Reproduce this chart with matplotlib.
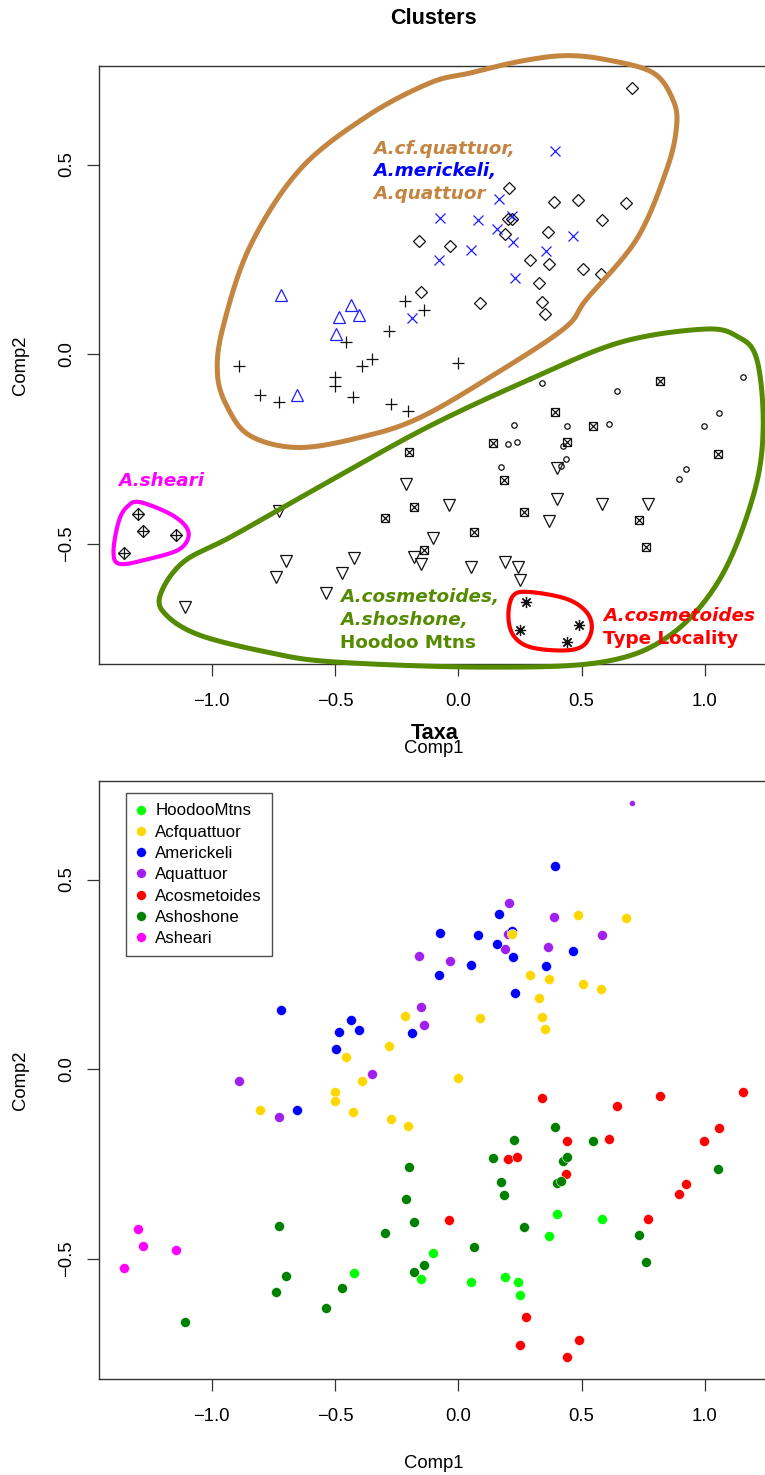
import numpy as np
import matplotlib
matplotlib.use("Agg")
import matplotlib.pyplot as plt

# ---------------- data ----------------
species_order = ["HoodooMtns", "Acfquattuor", "Americkeli", "Aquattuor",
                 "Acosmetoides", "Ashoshone", "Asheari"]

# per-species points: (Comp1, Comp2, cluster symbol)
americkeli_x = [-0.719, -0.434, -0.485, -0.404, -0.496, -0.655, -0.188, 0.393, 0.165,
                -0.073, 0.079, 0.218, 0.157, 0.222, 0.466, 0.050, -0.078, 0.357, 0.230]
americkeli_y = [0.156, 0.129, 0.098, 0.102, 0.054, -0.107, 0.095, 0.535, 0.410,
                0.358, 0.353, 0.363, 0.330, 0.295, 0.311, 0.275, 0.247, 0.273, 0.200]
americkeli_c = ["tri_up"] * 6 + ["cross"] * 13

aquattuor_x = [0.705, 0.207, 0.387, 0.203, 0.582, 0.191, 0.365, -0.158, -0.032, -0.151,
               -0.138, -0.350, -0.888, -0.727]
aquattuor_y = [0.702, 0.438, 0.401, 0.357, 0.353, 0.316, 0.323, 0.298, 0.285, 0.165,
               0.116, -0.014, -0.031, -0.125]
aquattuor_c = ["diamond"] * 10 + ["plus"] * 4

acfquattuor_x = [0.486, 0.680, 0.218, 0.291, 0.368, 0.504, 0.580, 0.328, 0.089, 0.341, 0.353,
                 -0.216, -0.282, -0.457, -0.389, -0.500, -0.500, -0.805, -0.426, -0.271,
                 -0.203, -0.002]
acfquattuor_y = [0.406, 0.399, 0.357, 0.247, 0.239, 0.224, 0.211, 0.188, 0.134, 0.137, 0.107,
                 0.139, 0.061, 0.032, -0.032, -0.061, -0.084, -0.107, -0.114, -0.132,
                 -0.149, -0.022]
acfquattuor_c = ["diamond"] * 11 + ["plus"] * 11

acosmetoides_x = [0.339, 0.642, 0.819, 1.154, 0.439, 0.612, 1.055, 0.996, 0.203, 0.237,
                  0.435, 0.923, 0.896, -0.036, 0.769, 0.276, 0.249, 0.488, 0.439]
acosmetoides_y = [-0.077, -0.097, -0.070, -0.061, -0.188, -0.185, -0.154, -0.189, -0.238,
                  -0.231, -0.277, -0.303, -0.329, -0.398, -0.396, -0.653, -0.728, -0.714,
                  -0.759]
acosmetoides_c = ["circle", "circle", "boxx"] + ["circle"] * 10 + ["tri_down"] * 2 + ["aster"] * 4

ashoshone_x = [-0.201, -0.211, -0.180, -0.727, -0.298, -0.700, -0.739, -0.470, -0.535,
               -1.109, -0.180, -0.140, 0.391, 0.226, 0.547, 0.139, 0.423, 0.441, 1.053,
               0.172, 0.184, 0.399, 0.416, 0.268, 0.733, 0.065, 0.760]
ashoshone_y = [-0.258, -0.341, -0.404, -0.414, -0.433, -0.546, -0.587, -0.577, -0.629,
               -0.667, -0.534, -0.515, -0.152, -0.187, -0.189, -0.233, -0.243, -0.232,
               -0.263, -0.297, -0.332, -0.300, -0.295, -0.417, -0.437, -0.469, -0.507]
ashoshone_c = ["boxx", "tri_down", "boxx", "tri_down", "boxx", "tri_down", "tri_down",
               "tri_down", "tri_down", "tri_down", "tri_down", "boxx", "boxx", "circle",
               "boxx", "boxx", "circle", "boxx", "boxx", "circle", "boxx", "tri_down",
               "circle", "boxx", "boxx", "boxx", "boxx"]

hoodoo_x = [-0.421, -0.150, -0.101, 0.400, 0.581, 0.369, 0.051, 0.191, 0.241, 0.251]
hoodoo_y = [-0.536, -0.553, -0.485, -0.382, -0.395, -0.439, -0.561, -0.548, -0.561, -0.596]
hoodoo_c = ["tri_down"] * 10

asheari_x = [-1.300, -1.279, -1.143, -1.356]
asheari_y = [-0.420, -0.467, -0.477, -0.524]
asheari_c = ["diamond_plus"] * 4

groups = {
    "Aquattuor": (aquattuor_x, aquattuor_y, aquattuor_c),
    "Americkeli": (americkeli_x, americkeli_y, americkeli_c),
    "Acfquattuor": (acfquattuor_x, acfquattuor_y, acfquattuor_c),
    "Acosmetoides": (acosmetoides_x, acosmetoides_y, acosmetoides_c),
    "Ashoshone": (ashoshone_x, ashoshone_y, ashoshone_c),
    "HoodooMtns": (hoodoo_x, hoodoo_y, hoodoo_c),
    "Asheari": (asheari_x, asheari_y, asheari_c),
}

# hand-drawn cluster outlines (annotation shapes, data coords)
outline_brown = [(-0.977, -0.048), (-0.953, 0.074), (-0.844, 0.285), (-0.642, 0.487),
                 (-0.371, 0.627), (-0.115, 0.715), (0.047, 0.741), (0.250, 0.772),
                 (0.433, 0.787), (0.602, 0.776), (0.789, 0.742), (0.870, 0.671),
                 (0.885, 0.601), (0.845, 0.487), (0.723, 0.303), (0.520, 0.145),
                 (0.426, 0.066), (0.115, -0.066), (-0.155, -0.167), (-0.371, -0.215),
                 (-0.642, -0.246), (-0.844, -0.215), (-0.939, -0.136)]
outline_green = [(0.291, -0.066), (0.655, 0.031), (0.993, 0.066), (1.128, 0.048),
                 (1.210, -0.013), (1.236, -0.197), (1.196, -0.373), (1.061, -0.592),
                 (0.858, -0.741), (0.588, -0.811), (0.115, -0.825), (-0.507, -0.811),
                 (-0.777, -0.785), (-1.047, -0.741), (-1.182, -0.689), (-1.209, -0.636),
                 (-1.115, -0.548), (-0.912, -0.478), (-0.507, -0.329), (-0.115, -0.189)]
outline_magenta = [(-1.291, -0.390), (-1.155, -0.426), (-1.094, -0.469), (-1.128, -0.513),
                   (-1.250, -0.539), (-1.371, -0.553), (-1.398, -0.522), (-1.378, -0.443),
                   (-1.344, -0.403)]
outline_red = [(0.291, -0.627), (0.439, -0.645), (0.520, -0.680), (0.541, -0.724),
               (0.507, -0.768), (0.426, -0.781), (0.291, -0.772), (0.223, -0.741),
               (0.203, -0.689), (0.223, -0.636)]

xticks = [-1.0, -0.5, 0.0, 0.5, 1.0]
yticks = [-0.5, 0.0, 0.5]

# ---------------- styles ----------------
colors = {"HoodooMtns": "#00FF00", "Acfquattuor": "#FFD700", "Americkeli": "#0000FF",
          "Aquattuor": "#A020F0", "Acosmetoides": "#FF0000", "Ashoshone": "#008000",
          "Asheari": "#FF00FF"}
BROWN = "#C38540"
OLIVE = "#558B00"
MAG = "#FF00FF"
RED = "#FF0000"

plt.rcParams["font.family"] = ["Liberation Sans", "DejaVu Sans"]

W, H = 765, 1475
fig = plt.figure(figsize=(W / 100, H / 100), dpi=100)

left_px, right_px = 99.1, 767.7
def add_axes(top_px, bottom_px):
    return fig.add_axes([left_px / W, 1 - bottom_px / H,
                         (right_px - left_px) / W, (bottom_px - top_px) / H])

ax1 = add_axes(65.7, 664.3)
ax2 = add_axes(780.7, 1379.3)

allx = np.concatenate([np.array(v[0]) for v in groups.values()])
ally = np.concatenate([np.array(v[1]) for v in groups.values()])
def rlim(a):
    lo, hi = a.min(), a.max()
    d = (hi - lo) * 0.04
    return lo - d, hi + d

for ax in (ax1, ax2):
    ax.set_xlim(*rlim(allx))
    ax.set_ylim(*rlim(ally))
    ax.set_xticks(xticks)
    ax.set_xticklabels([f"{t:.1f}".replace("-", "\u2212") for t in xticks])
    ax.set_yticks(yticks)
    ax.set_yticklabels([f"{t:.1f}".replace("-", "\u2212") for t in yticks],
                       rotation=90, va="center")
    ax.tick_params(direction="out", length=8.4, width=0.9, color="#333333",
                   labelsize=13.3, pad=9)
    ax.tick_params(axis="x", pad=12)
    for s in ax.spines.values():
        s.set_color("#333333")
        s.set_linewidth(1.0)
    ax.set_xlabel("Comp1", fontsize=13.3)
    ax.set_ylabel("Comp2", fontsize=13.3)
    ax.xaxis.set_label_coords(0.5, -(748 - 664.3) / 598.6)
    ax.xaxis.label.set_va("center")
    ax.yaxis.set_label_coords((20 - left_px) / (right_px - left_px), 0.5)
    ax.yaxis.label.set_va("center")

# ---------------- top panel: symbols by cluster ----------------
def draw_symbol(ax, x, y, kind, col):
    kw = dict(linestyle="none", color=col, markerfacecolor="none",
              markeredgecolor=col, markeredgewidth=0.9, clip_on=False)
    if kind == "plus":
        ax.plot(x, y, marker="+", markersize=8.6, **kw)
    elif kind == "cross":
        ax.plot(x, y, marker="x", markersize=7.2, **kw)
    elif kind == "diamond":
        ax.plot(x, y, marker="D", markersize=6.3, **kw)
    elif kind == "tri_up":
        ax.plot(x, y, marker="^", markersize=8.4, **kw)
    elif kind == "tri_down":
        ax.plot(x, y, marker="v", markersize=8.4, **kw)
    elif kind == "circle":
        ax.plot(x, y, marker="o", markersize=3.9, **kw)
    elif kind == "boxx":
        ax.plot(x, y, marker="s", markersize=6.3, **kw)
        ax.plot(x, y, marker="x", markersize=6.3, **kw)
    elif kind == "aster":
        ax.plot(x, y, marker=(8, 2, 0), markersize=8.0, **kw)
    elif kind == "diamond_plus":
        ax.plot(x, y, marker="D", markersize=6.3, **kw)
        ax.plot(x, y, marker="+", markersize=8.9, **kw)

for name, (xs, ys, cs) in groups.items():
    col = "#1F1FFF" if name == "Americkeli" else "#111111"
    for kind in sorted(set(cs)):
        sel = [i for i, c in enumerate(cs) if c == kind]
        draw_symbol(ax1, [xs[i] for i in sel], [ys[i] for i in sel], kind, col)

def closed_spline(pts, n=40):
    P = np.array(pts, dtype=float)
    N = len(P)
    t = np.linspace(0, 1, n, endpoint=False)[:, None]
    segs = []
    for i in range(N):
        p0, p1, p2, p3 = P[(i - 1) % N], P[i], P[(i + 1) % N], P[(i + 2) % N]
        segs.append(0.5 * (2 * p1 + (-p0 + p2) * t + (2 * p0 - 5 * p1 + 4 * p2 - p3) * t ** 2
                           + (-p0 + 3 * p1 - 3 * p2 + p3) * t ** 3))
    out = np.vstack(segs)
    return np.vstack([out, out[:1]])

for pts, col, lw in [(outline_brown, BROWN, 3.6), (outline_green, OLIVE, 3.6),
                     (outline_magenta, MAG, 3.0), (outline_red, RED, 3.0)]:
    c = closed_spline(pts)
    ax1.plot(c[:, 0], c[:, 1], color=col, lw=lw, clip_on=False, solid_capstyle="round",
             zorder=3)

lab = dict(fontsize=13.2, fontweight="bold", family="DejaVu Sans", va="baseline",
           ha="left", clip_on=False, zorder=5)
ax1.text(-0.347, 0.529, "A.cf.quattuor,", color=BROWN, style="italic", **lab)
ax1.text(-0.347, 0.469, "A.merickeli,", color="#0000FF", style="italic", **lab)
ax1.text(-0.347, 0.408, "A.quattuor", color=BROWN, style="italic", **lab)
ax1.text(-1.378, -0.347, "A.sheari", color=MAG, style="italic", **lab)
ax1.text(-0.480, -0.652, "A.cosmetoides,", color=OLIVE, style="italic", **lab)
ax1.text(-0.480, -0.713, "A.shoshone,", color=OLIVE, style="italic", **lab)
ax1.text(-0.480, -0.774, "Hoodoo Mtns", color=OLIVE, **lab)
ax1.text(0.588, -0.703, "A.cosmetoides", color=RED, style="italic", **lab)
ax1.text(0.588, -0.763, "Type Locality", color=RED, **lab)

fig.text(433.4 / W, 1 - 18.3 / H, "Clusters", ha="center", va="center",
         fontsize=15.6, fontweight="bold")

# ---------------- bottom panel: coloured by taxon ----------------
for name, (xs, ys, cs) in groups.items():
    sizes = [4.3 if (name == "Aquattuor" and i == 0) else 7.2 for i in range(len(xs))]
    for s in sorted(set(sizes)):
        sel = [i for i in range(len(xs)) if sizes[i] == s]
        ax2.plot([xs[i] for i in sel], [ys[i] for i in sel], linestyle="none", marker="o",
                 markersize=s, color=colors[name], markeredgecolor="white",
                 markeredgewidth=0.4, zorder=3)

handles = [plt.Line2D([], [], linestyle="none", marker="o", markersize=7.0,
                      color=colors[n], markeredgecolor="white", markeredgewidth=0.3)
           for n in species_order]
leg = ax2.legend(handles, species_order, loc="upper left",
                 bbox_to_anchor=((125.7 - left_px) / (right_px - left_px),
                                 1 - (793.3 - 780.7) / 598.6),
                 fontsize=12.2, frameon=True, fancybox=False, borderaxespad=0,
                 handlelength=0.6, handletextpad=0.55, labelspacing=0.37,
                 borderpad=0.6)
leg.get_frame().set_edgecolor("#222222")
leg.get_frame().set_linewidth(1.0)

fig.text(434.7 / W, 1 - 733.5 / H, "Taxa", ha="center", va="center",
         fontsize=15.6, fontweight="bold")

fig.savefig("out.png", dpi=100)
